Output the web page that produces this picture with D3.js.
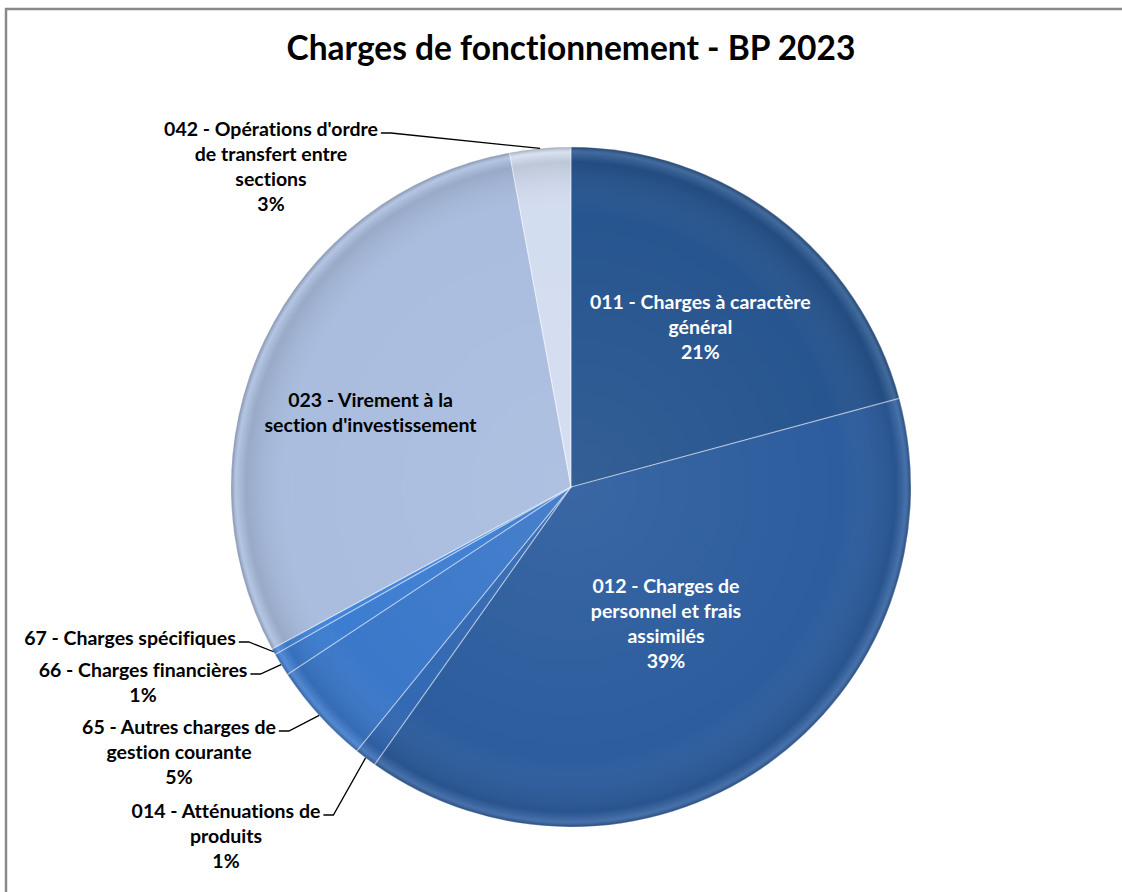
<!DOCTYPE html>
<html>
<head>
<meta charset="utf-8">
<script src="https://cdn.jsdelivr.net/npm/d3@7"></script>
<style>
  body { margin: 0; background: #fff; }
  svg text { font-family: Lato, "Open Sans", sans-serif; font-weight: bold; font-variant-ligatures: none; }
</style>
</head>
<body>
<svg id="chart" width="1122" height="892"></svg>
<script>
// data (percent of total)
const codes = ['011', '012', '014', '65', '66', '67', '023', '042'];
const labels = [
  ['011 - Charges à caractère', 'général', '21%'],
  ['012 - Charges de', 'personnel et frais', 'assimilés', '39%'],
  ['014 - Atténuations de', 'produits', '1%'],
  ['65 - Autres charges de', 'gestion courante', '5%'],
  ['66 - Charges financières', '1%'],
  ['67 - Charges spécifiques'],
  ['023 - Virement à la', "section d'investissement"],
  ["042 - Opérations d'ordre", 'de transfert entre', 'sections', '3%']
];
const values = [20.8, 39.0, 1.05, 4.85, 1.1, 0.3, 30.0, 2.9];

const colors = ['#27558f', '#2d5d9e', '#3369b3', '#3b78c9', '#3d7dd1', '#4285da', '#aabddf', '#d3ddf0'];
const textColors = ['#fff', '#fff', '#000', '#000', '#000', '#000', '#000', '#000'];

// label layout: inside -> radius (and optional angle) ; outside -> block centre x,y
const labelPos = [
  {inside: true, r: 206, angle: 38.9},
  {inside: true, r: 166},
  {inside: false, x: 226, y: 811},
  {inside: false, x: 179, y: 727},
  {inside: false, x: 143, y: 670},
  {inside: false, x: 130, y: 638},
  {inside: true, r: 214, angle: 290.5},
  {inside: false, x: 271, y: 129}
];

var svg = d3.select('#chart');
var cx = 571, cy = 487, radius = 340;
var lineH = 25;

svg.append('rect').attr('x', 6).attr('y', 9).attr('width', 1200).attr('height', 1000)
  .attr('fill', '#fff').attr('stroke', '#8a8a8a').attr('stroke-width', 2.5);

svg.append('text').attr('x', cx).attr('y', 60).attr('text-anchor', 'middle')
  .style('font-size', '33.5px').attr('fill', '#000')
  .text('Charges de fonctionnement - BP 2023');

var defs = svg.append('defs');
var rg = defs.append('radialGradient').attr('id', 'bevel')
  .attr('gradientUnits', 'userSpaceOnUse').attr('cx', 0).attr('cy', 0).attr('r', radius);
[[0, '#fff', 0.06], [0.8, '#fff', 0], [0.955, '#000', 0.1], [0.985, '#fff', 0.12], [1, '#000', 0.25]]
  .forEach(function (s) {
    rg.append('stop').attr('offset', s[0]).attr('stop-color', s[1]).attr('stop-opacity', s[2]);
  });

var pie = d3.pie().sort(null).value(function (d) { return d; });
var arcs = pie(values);
var arc = d3.arc().innerRadius(0).outerRadius(radius);

var g = svg.append('g').attr('transform', 'translate(' + cx + ',' + cy + ')');

g.selectAll('path.slice').data(arcs).enter().append('path')
  .attr('class', 'slice')
  .attr('d', arc)
  .attr('fill', function (d, i) { return colors[i]; });

g.selectAll('path.bevel').data(arcs).enter().append('path')
  .attr('class', 'bevel')
  .attr('d', arc)
  .attr('fill', 'url(#bevel)')
  .attr('stroke', 'rgba(255,255,255,0.3)')
  .attr('stroke-width', 1.2)
  .attr('stroke-linejoin', 'round');

function polar(r, a) { return [r * Math.sin(a), -r * Math.cos(a)]; }

arcs.forEach(function (d, i) {
  var lp = labelPos[i];
  var lines = labels[i];
  var mid = (d.startAngle + d.endAngle) / 2;
  var x, y;
  if (lp.inside) {
    var a = lp.angle !== undefined ? lp.angle * Math.PI / 180 : mid;
    var p = polar(lp.r, a);
    x = cx + p[0];
    y = cy + p[1] - (lines.length - 1) * lineH / 2;
  } else {
    x = lp.x; y = lp.y;
  }
  var t = svg.append('text').attr('text-anchor', 'middle')
    .attr('fill', textColors[i]).style('font-size', '19.5px');
  lines.forEach(function (s, k) {
    t.append('tspan').attr('x', x).attr('y', y + k * lineH + 7).text(s);
  });
  if (!lp.inside) {
    var w = t.select('tspan').node().getComputedTextLength();
    var x0 = x + w / 2 + 3;
    var e = polar(radius, mid);
    svg.append('polyline')
      .attr('points', [[x0, y + 4], [x0 + 10, y + 4], [cx + e[0], cy + e[1]]].map(String).join(' '))
      .attr('fill', 'none').attr('stroke', '#000').attr('stroke-width', 1.3);
  }
});
</script>
</body>
</html>
